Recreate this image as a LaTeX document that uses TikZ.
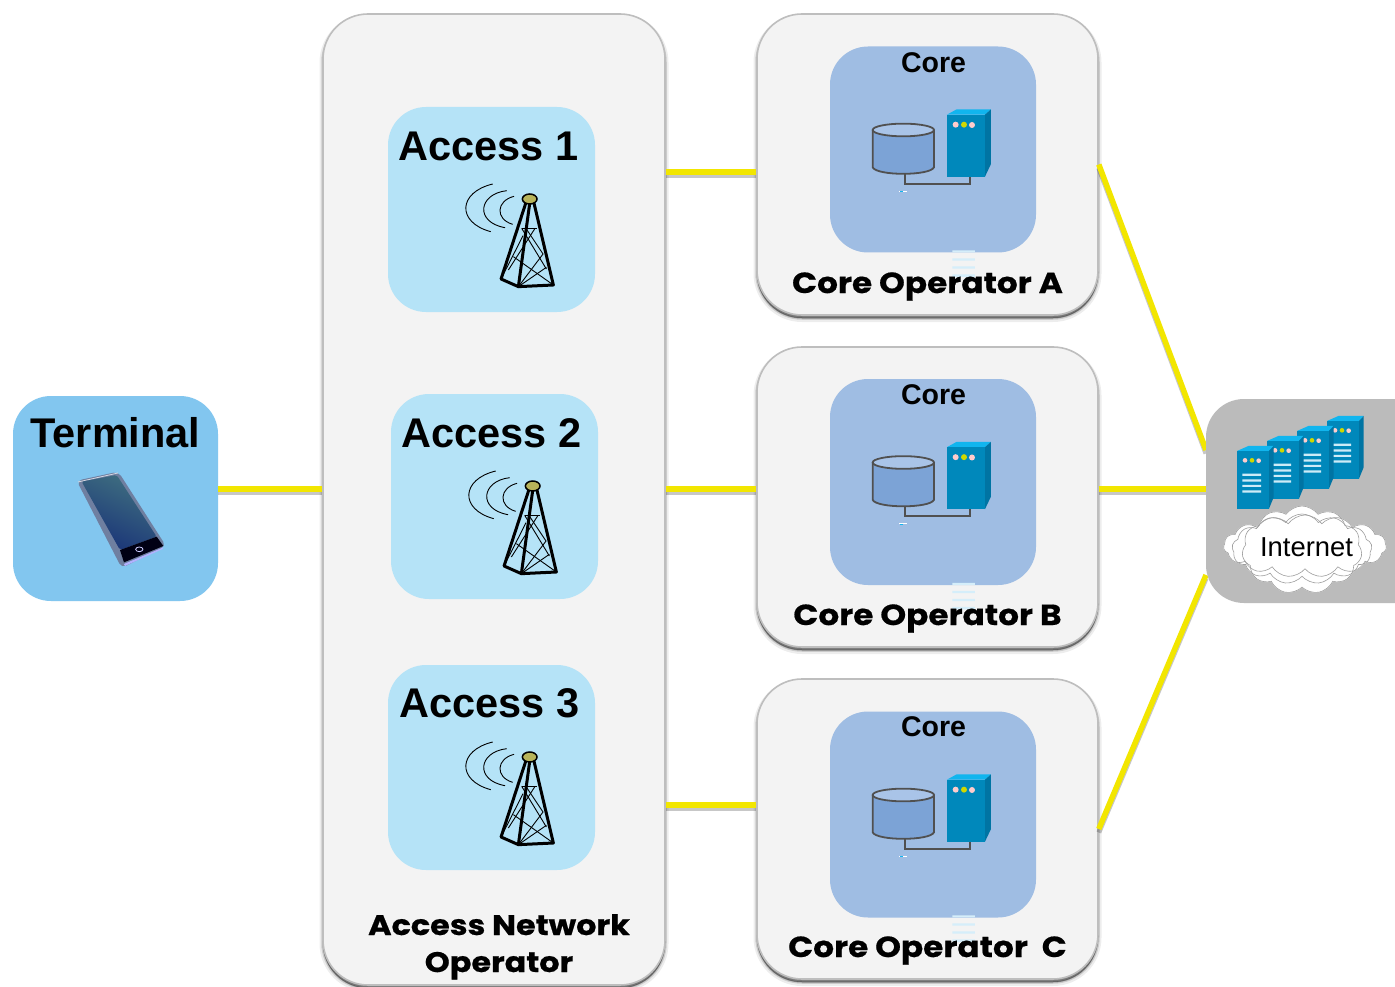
\documentclass[tikz,border=0pt]{standalone}
\usepackage{fontspec}
\setmainfont{Liberation Sans}
\newfontfamily\widefont[FakeStretch=1.13,BoldFeatures={FakeBold=0.6}]{Poppins}
\usetikzlibrary{shapes.symbols}
\definecolor{panelfill}{HTML}{F3F3F3}
\definecolor{panelline}{HTML}{BEBEBE}
\definecolor{termfill}{HTML}{82C6EF}
\definecolor{accessfill}{HTML}{B5E3F7}
\definecolor{corefill}{HTML}{9FBDE3}
\definecolor{netfill}{HTML}{BBBBBB}
\definecolor{linkyellow}{HTML}{F2E600}
\definecolor{srvfront}{HTML}{0088BB}
\definecolor{srvtop}{HTML}{11B5EE}
\definecolor{srvside}{HTML}{0074A3}
\definecolor{srvpink}{HTML}{FFCCCC}
\definecolor{srvyellow}{HTML}{D0D800}
\definecolor{srvstripe}{HTML}{CDEBF7}
\definecolor{pipegray}{HTML}{505050}
\definecolor{cylbody}{HTML}{7CA3D6}
\definecolor{cyltop}{HTML}{A9C4E8}
\definecolor{ghost}{HTML}{D5EEFA}
\definecolor{towerhead}{HTML}{B8B45A}
\definecolor{phonerim}{HTML}{6F7FA0}
\definecolor{phonetop}{HTML}{3F6F80}
\definecolor{phonemid}{HTML}{22479E}
\definecolor{phonelow}{HTML}{1A3478}
\tikzset{
  x=1pt,y=-1pt,
  panel/.style={rectangle,rounded corners=45pt,inner sep=0pt,draw=panelline,line width=1.6pt,fill=panelfill,
    preaction={draw=black,fill=black,opacity=.07,line width=7pt,transform canvas={yshift=-3.5pt}},
    preaction={draw=black,fill=black,opacity=.14,line width=3.5pt,transform canvas={yshift=-3pt}},
    preaction={draw=black,fill=black,opacity=.25,line width=1pt,transform canvas={yshift=-3pt}}},
  tile/.style={rectangle,rounded corners=38pt,inner sep=0pt,minimum width=206pt,minimum height=206pt},
  big/.style={anchor=base,inner sep=0pt,font=\fontsize{41.5}{41.5}\selectfont\bfseries},
  corelabel/.style={anchor=base,inner sep=0pt,font=\fontsize{28.5}{28.5}\selectfont\bfseries},
  widelabel/.style={anchor=base,inner sep=0pt,font=\widefont\fontsize{29}{29}\selectfont\bfseries},
  widelabelsmall/.style={anchor=base,inner sep=0pt,font=\widefont\fontsize{28.2}{28.2}\selectfont\bfseries},
  link/.style={line width=5.5pt,draw=linkyellow,
    preaction={draw=black,opacity=.22,line width=5pt,transform canvas={yshift=-3.5pt}}},
  puff/.style={cloud,cloud puffs=15,cloud puff arc=110,aspect=2,inner sep=0pt},
  pufffill/.style={puff,fill=white,draw=white,line width=.6pt},
  puffline/.style={puff,draw=gray!75,line width=.6pt},
  towerleg/.style={line width=3pt,black,line cap=round,line join=round},
  towerbrace/.style={line width=.9pt,black},
  wave/.style={line width=.9pt,black},
}
\newcommand{\radiotower}[2]{%
\begin{scope}[shift={(#1,#2)},x=.3333pt,y=-.3333pt]
  \draw[wave] (-111,-45) .. controls (-215,-20) and (-220,70) .. (-117,98);
  \draw[wave] (-69,-25) .. controls (-155,-15) and (-165,70) .. (-74,86);
  \draw[wave] (-47,-8) .. controls (-100,5) and (-105,60) .. (-51,76);
  \draw[towerbrace] (-24,88) -- (21,88);
  \draw[towerbrace] (-24,88) -- (50,210) (16,88) -- (-64,213);
  \draw[towerbrace] (-10,90) -- (40,165) -- (-34,263);
  \draw[towerbrace] (-86,240) -- (-20,110);
  \draw[towerbrace] (-49,173) -- (71,258);
  \draw[towerbrace] (-34,263) -- (50,205);
  \draw[towerleg] (-12,13) -- (-86,240) -- (-34,263) -- (71,258) -- (13,13);
  \draw[towerleg] (0,13) -- (-34,263);
  \draw[black,line width=1.5pt,fill=towerhead] (0,0) ellipse (22 and 15);
\end{scope}}
\newcommand{\coreicon}[2]{%
\begin{scope}[shift={(#1,#2)},x=.3333pt,y=-.3333pt]
  \draw[pipegray,line width=1.8pt] (254,400) -- (254,431) -- (450,431) -- (450,408);
  \fill[cylbody] (158,270) -- (158,382) .. controls (170,408) and (330,408) .. (342,382) -- (342,270) -- cycle;
  \draw[pipegray,line width=1.8pt] (158,270) -- (158,382) .. controls (170,408) and (330,408) .. (342,382) -- (342,270);
  \draw[pipegray,line width=1.8pt,fill=cyltop] (250,270) ellipse (92 and 19);
  \fill[srvtop] (381,224) -- (410,208) -- (513,208) -- (495,224) -- cycle;
  \fill[srvside] (495,224) -- (513,208) -- (513,372) -- (495,410) -- cycle;
  \fill[srvfront] (381,224) rectangle (495,410);
  \fill[srvpink] (407,254) circle (9);
  \fill[srvyellow] (432,254) circle (9);
  \fill[srvpink] (456,255) circle (9);
  \fill[white] (238,452) rectangle (262,456);
  \fill[srvtop] (240,454) rectangle (250,457);
  \fill[ghost] (397,631) rectangle (465,637) (397,655) rectangle (465,662) (397,679) rectangle (465,686) (397,703) rectangle (465,711);
\end{scope}}
\newcommand{\rackserver}[2]{%
\begin{scope}[shift={(#1,#2)},x=.3333pt,y=-.3333pt]
  \fill[srvtop] (126,183) -- (160,168) -- (236,168) -- (222,183) -- cycle;
  \fill[srvside] (222,183) -- (236,168) -- (236,322) -- (222,356) -- cycle;
  \fill[srvfront] (126,183) rectangle (222,356);
  \fill[srvpink] (150,211) circle (7);
  \fill[srvyellow] (171,211) circle (7);
  \fill[srvpink] (191,212) circle (7);
  \fill[srvstripe] (142,251) rectangle (198,258) (142,268) rectangle (198,275) (142,285) rectangle (198,291) (142,301) rectangle (198,308);
\end{scope}}
\begin{document}
\begin{tikzpicture}
\useasboundingbox (0,0) rectangle (1395,987);
\fill[white] (0,0) rectangle (1395,987);

\coordinate (tA) at (665,172);
\coordinate (tB) at (665,489);
\coordinate (tC) at (665,805);
\coordinate (iA) at (1206,450);
\coordinate (iB) at (1206,489);
\coordinate (iC) at (1206,575);

% panels
\node[panel,minimum width=342pt,minimum height=971pt] (accessnet) at (494,499.5) {};
\node[panel,minimum width=341pt,minimum height=301pt] (opA) at (927.5,164.5) {};
\node[panel,minimum width=341pt,minimum height=300pt] (opB) at (927.5,497) {};
\node[panel,minimum width=341pt,minimum height=300pt] (opC) at (927.5,829) {};
\node[tile,fill=termfill,minimum width=205pt,minimum height=205pt] (terminal) at (115.5,498.5) {};

\draw[link] (terminal.east |- tB) -- (accessnet.west |- tB);
\draw[link] (accessnet.east |- tA) -- (opA.west |- tA);
\draw[link] (accessnet.east |- tB) -- (opB.west |- tB);
\draw[link] (accessnet.east |- tC) -- (opC.west |- tC);
\draw[link] (opA.east) -- (iA);
\draw[link] (opB.east |- iB) -- (iB);
\draw[link] (opC.east) -- (iC);
\node[tile,fill=netfill,minimum width=240pt,minimum height=204pt] (internet) at (1326,501) {};

% access tiles
\node[tile,fill=accessfill,minimum width=207pt,minimum height=205pt] (acc1) at (491.5,209.5) {};
\node[tile,fill=accessfill,minimum width=207pt,minimum height=205pt] (acc2) at (494.5,496.5) {};
\node[tile,fill=accessfill,minimum width=207pt,minimum height=205pt] (acc3) at (491.5,767.5) {};
\radiotower{529.7}{199}
\radiotower{532.7}{486}
\radiotower{529.7}{757}
\node[big] (acc1t) at (488.5,161) {Access 1};
\node[big] (acc2t) at (491.5,447.5) {Access 2};
\node[big] (acc3t) at (489.5,717.5) {Access 3};

% core tiles
\node[tile,fill=corefill] (coreA) at (933,149.5) {};
\node[tile,fill=corefill] (coreB) at (933,482) {};
\node[tile,fill=corefill] (coreC) at (933,814.5) {};
\coreicon{820}{40}
\coreicon{820}{372.5}
\coreicon{820}{705}
\node[corelabel] (coreAt) at (933.5,72.5) {Core};
\node[corelabel] (coreBt) at (933.5,404) {Core};
\node[corelabel] (coreCt) at (933.5,736) {Core};
\node[widelabel] (opAt) at (927.5,293) {Core Operator A};
\node[widelabel] (opBt) at (927.5,625) {Core Operator B};
\node[widelabel] (opCt) at (927.5,957) {Core Operator\ \ C};
\node[widelabelsmall] (netT1) at (499,935) {Access Network};
\node[widelabelsmall] (netT2) at (499,972) {Operator};

% terminal
\node[big] (termt) at (115.5,447.5) {Terminal};
\begin{scope}[shift={(0,390)},x=.3333pt,y=-.3333pt]
  \fill[phonerim,rounded corners=5pt] (230,272) -- (355,245) -- (498,468) -- (365,534) -- cycle;
  \draw[white!70!phonerim,line width=.8pt,rounded corners=5pt] (234,276) -- (354,249);
  \shade[top color=phonetop,middle color=phonemid,bottom color=phonelow,shading angle=-25,rounded corners=2pt] (245,275) -- (350,255) -- (470,440) -- (360,480) -- cycle;
  \fill[black!92!blue] (360,480) -- (470,440) -- (490,468) -- (372,517) -- cycle;
  \fill[white!70!blue] (372,522) -- (490,472) -- (488,477) -- (375,528) -- cycle;
  \draw[white!80!blue,line width=.8pt] (418,478) ellipse (11 and 7);
\end{scope}

% internet group
\rackserver{1285}{360}
\rackserver{1255}{370}
\rackserver{1225}{380}
\rackserver{1195}{390}
\node[pufffill,minimum width=163pt,minimum height=62pt] (cloudbackfill) at (1305,546) {};
\node[pufffill,minimum width=140pt,minimum height=70pt,cloud puffs=13] (cloudmidfill) at (1302,549) {};
\node[pufffill,minimum width=120pt,minimum height=88pt,cloud puffs=11] (cloudfrontfill) at (1302,550) {};
\node[puffline,minimum width=163pt,minimum height=62pt] (cloudback) at (1305,546) {};
\node[puffline,minimum width=140pt,minimum height=70pt,cloud puffs=13] (cloudmid) at (1302,549) {};
\node[puffline,minimum width=120pt,minimum height=88pt,cloud puffs=11] (cloudfront) at (1302,550) {};
\node[anchor=base,inner sep=0pt,font=\fontsize{27.4}{27.4}\selectfont] (nettext) at (1306.5,556) {Internet};
\end{tikzpicture}
\end{document}
